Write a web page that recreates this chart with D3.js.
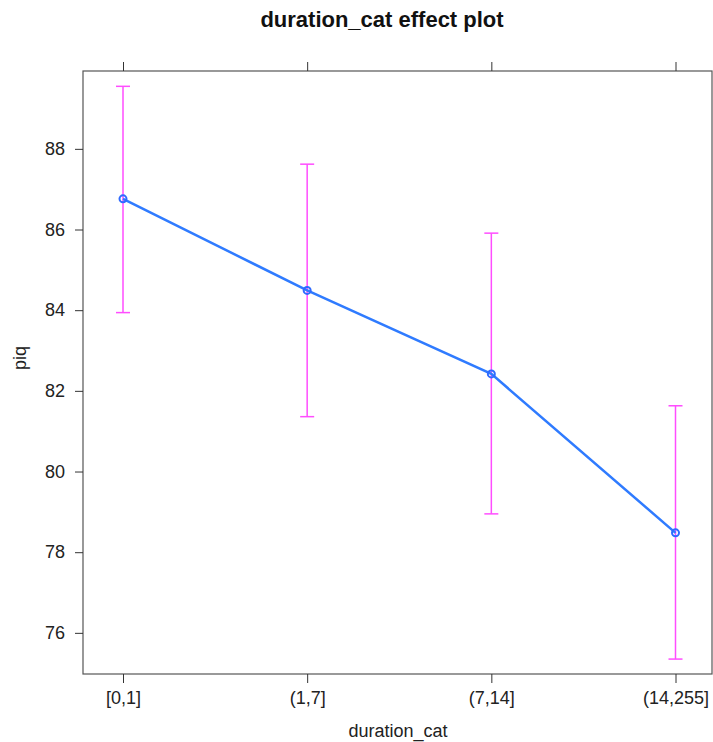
<!DOCTYPE html>
<html><head><meta charset="utf-8">
<script src="https://cdn.jsdelivr.net/npm/d3@7"></script>
<style>body{margin:0;background:#fff;font-family:"Liberation Sans",Arial,sans-serif}</style>
</head><body><svg id="c" width="713" height="742"></svg>
<script>
const categories = ["[0,1]", "(1,7]", "(7,14]", "(14,255]"];
const fitValues = [86.76, 84.49, 82.42, 78.48];
const lowerValues = [83.94, 81.36, 78.95, 75.35];
const upperValues = [89.55, 87.62, 85.91, 81.63];
const yTicks = [76, 78, 80, 82, 84, 86, 88];

const svg = d3.select("#c");
const L = 83, R = 712, T = 71, B = 674;
const x = d3.scalePoint().domain(categories).range([L + 40, R - 36.5]).padding(0);
const y = d3.scaleLinear().domain([74.98, 89.93]).range([B, T]);

const frame = "#555";
svg.append("rect").attr("x", L).attr("y", T).attr("width", R - L).attr("height", B - T)
  .attr("fill", "none").attr("stroke", frame).attr("stroke-width", 1.2);

const yAx = svg.append("g").attr("transform", `translate(${L},0)`)
  .call(d3.axisLeft(y).tickValues(yTicks).tickSize(8).tickPadding(10).tickFormat(d3.format("d")));
const xAx = svg.append("g").attr("transform", `translate(0,${B})`)
  .call(d3.axisBottom(x).tickSize(9).tickPadding(8));
const xTop = svg.append("g").attr("transform", `translate(0,${T})`)
  .call(d3.axisTop(x).tickSize(9).tickFormat(""));
[yAx, xAx, xTop].forEach(g => {
  g.select(".domain").remove();
  g.selectAll(".tick line").attr("stroke", "#333").attr("stroke-width", 1);
  g.selectAll("text").attr("font-size", 18).attr("fill", "#222")
    .attr("font-family", "'Liberation Sans', Arial, sans-serif");
});

// error bars
const eb = svg.append("g").attr("stroke", "#ff4dff").attr("stroke-width", 1.5);
categories.forEach((c, i) => {
  eb.append("line").attr("x1", x(c)).attr("x2", x(c)).attr("y1", y(lowerValues[i])).attr("y2", y(upperValues[i]));
  eb.append("line").attr("x1", x(c) - 7).attr("x2", x(c) + 7).attr("y1", y(lowerValues[i])).attr("y2", y(lowerValues[i]));
  eb.append("line").attr("x1", x(c) - 7).attr("x2", x(c) + 7).attr("y1", y(upperValues[i])).attr("y2", y(upperValues[i]));
});

const line = d3.line().x((d, i) => x(categories[i])).y(d => y(d));
svg.append("path").datum(fitValues).attr("d", line).attr("fill", "none")
  .attr("stroke", "#2f7bff").attr("stroke-width", 2.5);
svg.append("g").selectAll("circle").data(fitValues).join("circle")
  .attr("cx", (d, i) => x(categories[i])).attr("cy", d => y(d)).attr("r", 3.5)
  .attr("fill", "none").attr("stroke", "#2f6bff").attr("stroke-width", 2);

svg.append("text").attr("x", 382).attr("y", 27).attr("text-anchor", "middle")
  .attr("font-size", 22).attr("font-weight", "bold").attr("fill", "#111").text("duration_cat effect plot");
svg.append("text").attr("x", 398).attr("y", 737).attr("text-anchor", "middle")
  .attr("font-size", 18).attr("fill", "#222").text("duration_cat");
svg.append("text").attr("transform", `translate(26,358) rotate(-90)`).attr("text-anchor", "middle")
  .attr("font-size", 18).attr("fill", "#222").text("piq");
</script></body></html>
